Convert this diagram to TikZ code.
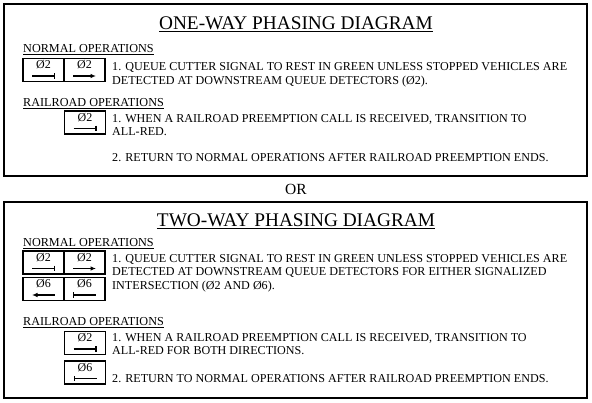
\documentclass[tikz,border=0pt]{standalone}
\usepackage{fontspec}
\setmainfont{Liberation Serif}
\usetikzlibrary{arrows.meta,calc}
\newcommand\phcell[4]{%
  \node[cell] (#1) at (#2) {};
  \node[celltxt] (#1t) at ($(#1.north)+(0,11)$) {#3};
  \coordinate (#1a) at ($(#1.center)+(-11.5,6)$);
  \coordinate (#1b) at ($(#1.center)+(11.5,6)$);
  \draw[sym,#4] (#1a) -- (#1b);
}
\tikzset{
  frame/.style={draw, line width=1.5pt},
  cell/.style={draw, line width=1.2pt, minimum width=41pt, minimum height=23pt, inner sep=0pt},
  celltxt/.style={anchor=base, inner sep=0pt, font=\fontsize{12}{13}\selectfont},
  sym/.style={line width=1.2pt},
  endbar/.style={-{Bar[width=5.5pt,line width=1.2pt]}},
  startbar/.style={{Bar[width=5.5pt,line width=1.2pt]}-},
  rarrow/.style={-{Latex[length=5.5pt,width=4.5pt]}},
  larrow/.style={{Latex[length=5.5pt,width=4.5pt]}-},
  body/.style={anchor=base west, inner sep=0pt, font=\fontsize{12.1}{13.5}\selectfont},
  hdr/.style={anchor=base west, inner sep=0pt, font=\fontsize{12.2}{13.5}\selectfont},
  title/.style={anchor=base, inner sep=0pt, font=\fontsize{19.3}{21}\selectfont},
}
\begin{document}
\begin{tikzpicture}[x=1pt,y=-1pt]
\useasboundingbox (0,0) rectangle (592,403);
% ---------- one-way ----------
\draw[frame] (4,4) rectangle (587,176);
\node[title] (t1) at (296,30) {\underline{ONE-WAY PHASING DIAGRAM}};
\node[hdr] (h1) at (23,53) {\underline{NORMAL OPERATIONS}};
\phcell{a1}{43.5,70}{Ø2}{endbar}
\phcell{a2}{84.5,70}{Ø2}{rarrow}
\node[body] (l1) at (112,71) {1. QUEUE CUTTER SIGNAL TO REST IN GREEN UNLESS STOPPED VEHICLES ARE};
\node[body] (l2) at (112,84.5) {DETECTED AT DOWNSTREAM QUEUE DETECTORS (Ø2).};
\node[hdr] (h2) at (23,106.5) {\underline{RAILROAD OPERATIONS}};
\phcell{b1}{85,122.5}{Ø2}{endbar}
\node[body] (l3) at (112,122.5) {1. WHEN A RAILROAD PREEMPTION CALL IS RECEIVED, TRANSITION TO};
\node[body] (l4) at (112,136) {ALL-RED.};
\node[body] (l5) at (112,162) {2. RETURN TO NORMAL OPERATIONS AFTER RAILROAD PREEMPTION ENDS.};
% ---------- OR ----------
\node[anchor=base, inner sep=0pt, font=\fontsize{15.5}{17}\selectfont] (or) at (296,195) {OR};
% ---------- two-way ----------
\draw[frame] (4,202) rectangle (587,398);
\node[title] (t2) at (296,226.5) {\underline{TWO-WAY PHASING DIAGRAM}};
\node[hdr] (h3) at (23,247) {\underline{NORMAL OPERATIONS}};
\phcell{c1}{43.5,262.5}{Ø2}{endbar}
\phcell{c2}{84.5,262.5}{Ø2}{rarrow}
\phcell{d1}{43.5,289}{Ø6}{larrow}
\phcell{d2}{84.5,289}{Ø6}{startbar}
\node[body] (m1) at (112,262.5) {1. QUEUE CUTTER SIGNAL TO REST IN GREEN UNLESS STOPPED VEHICLES ARE};
\node[body] (m2) at (112,276) {DETECTED AT DOWNSTREAM QUEUE DETECTORS FOR EITHER SIGNALIZED};
\node[body] (m3) at (112,289.5) {INTERSECTION (Ø2 AND Ø6).};
\node[hdr] (h4) at (23,326) {\underline{RAILROAD OPERATIONS}};
\phcell{e1}{85,343}{Ø2}{endbar}
\phcell{e2}{85,372.5}{Ø6}{startbar}
\node[body] (m4) at (112,341.5) {1. WHEN A RAILROAD PREEMPTION CALL IS RECEIVED, TRANSITION TO};
\node[body] (m5) at (112,355) {ALL-RED FOR BOTH DIRECTIONS.};
\node[body] (m6) at (112,383) {2. RETURN TO NORMAL OPERATIONS AFTER RAILROAD PREEMPTION ENDS.};
\end{tikzpicture}
\end{document}
